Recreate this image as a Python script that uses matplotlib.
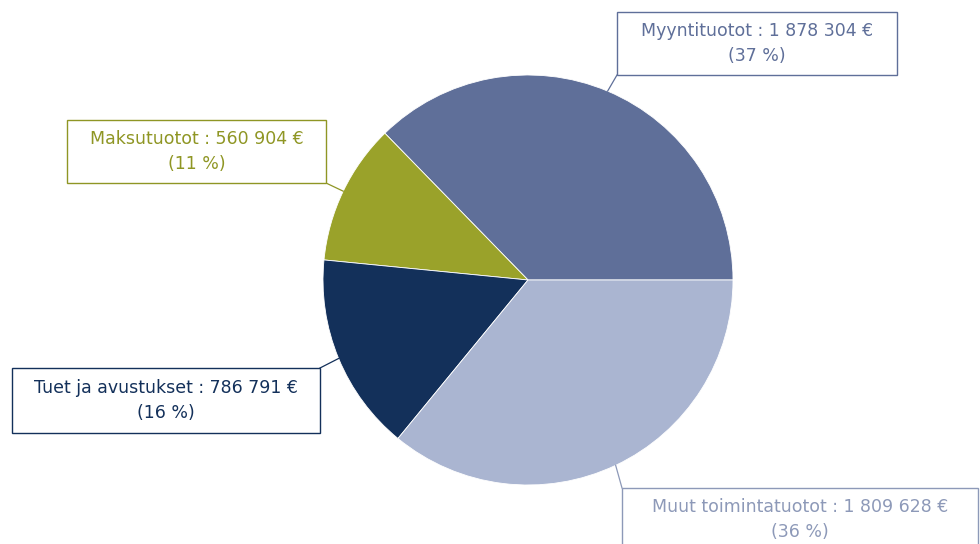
import matplotlib.pyplot as plt
from matplotlib.patches import Rectangle
import numpy as np

labels = ['Myyntituotot', 'Maksutuotot', 'Tuet ja avustukset', 'Muut toimintatuotot']
values = [1878304, 560904, 786791, 1809628]
value_text = ['1 878 304 €', '560 904 €', '786 791 €', '1 809 628 €']
pct_text = ['37 %', '11 %', '16 %', '36 %']
colors = ['#5f6f99', '#9aa22a', '#13305a', '#aab5d1']
text_colors = ['#5f6f99', '#8f9624', '#13305a', '#8d99b8']

# label boxes in pixel coords (left, top, right, bottom) and corner the leader goes to
boxes = [(617, 12, 897, 75), (67, 120, 326, 183), (12, 368, 320, 433), (622, 488, 978, 551)]
corners = [(617, 75), (326, 183), (320, 368), (622, 488)]

W, H = 980, 544
fig = plt.figure(figsize=(W / 100, H / 100), dpi=100)
ax = fig.add_axes([0, 0, 1, 1])

cx, cy, r = 528, H - 280, 205
wedges, _ = ax.pie(values, colors=colors, startangle=0, counterclock=True,
                   center=(cx, cy), radius=r, frame=True,
                   wedgeprops=dict(edgecolor='white', linewidth=0.6))
ax.set_xlim(0, W)
ax.set_ylim(0, H)
ax.set_aspect('equal')
ax.axis('off')

for i, w in enumerate(wedges):
    mid = np.deg2rad((w.theta1 + w.theta2) / 2)
    px, py = cx + r * np.cos(mid), cy + r * np.sin(mid)
    qx, qy = corners[i]
    ax.plot([px, qx], [py, H - qy], color=text_colors[i], lw=0.9, zorder=3)
    l, t, rr, b = boxes[i]
    ax.add_patch(Rectangle((l, H - b), rr - l, b - t, fill=True, facecolor='white',
                           edgecolor=text_colors[i], lw=1.0, zorder=4))
    ax.text((l + rr) / 2, H - (t + b) / 2,
            f'{labels[i]} : {value_text[i]}\n({pct_text[i]})',
            ha='center', va='center', multialignment='center',
            fontsize=12.5, color=text_colors[i], linespacing=1.45, zorder=5)

fig.savefig('out.png', dpi=100)
